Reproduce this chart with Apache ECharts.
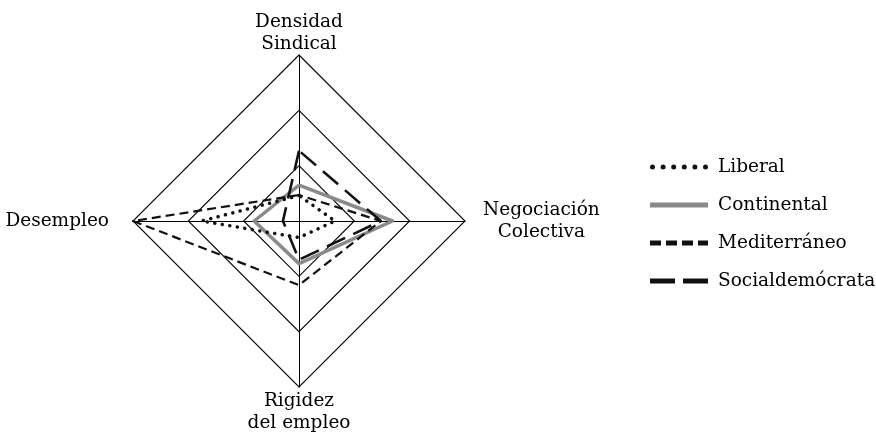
<!DOCTYPE html>
<html>
<head>
<meta charset="utf-8">
<script src="https://cdn.jsdelivr.net/npm/echarts@6/dist/echarts.min.js"></script>
<style>
  html, body { margin: 0; padding: 0; background: #fff; }
  #chart { width: 876px; height: 432px; }
</style>
</head>
<body>
<div id="chart"></div>
<script>
// indicators, counter-clockwise from the top
const indicators = ['Densidad\nSindical', 'Desempleo', 'Rigidez\ndel empleo', 'Negociación\nColectiva'];
const seriesNames = ['Liberal', 'Continental', 'Mediterráneo', 'Socialdemócrata'];

const liberal = [0.46, 1.76, 0.30, 0.65];
const continental = [0.65, 0.81, 0.77, 1.69];
const mediterraneo = [0.47, 3.0, 1.16, 1.48];
const socialdemocrata = [1.27, 0.29, 0.70, 1.48];

const serif = 'DejaVu Serif';
const fs = 18.5;

// legend samples drawn as path icons
const dotsIcon = 'path://' + [0, 10.6, 21.2, 31.8, 42.4, 53].map(x =>
    'M' + x + ',2.5a2.5,2.5 0 1,0 5,0a2.5,2.5 0 1,0 -5,0').join('');
const shortDashIcon = 'path://M0,0h11v5h-11zM16,0h11v5h-11zM32,0h11v5h-11zM48,0h10v5h-10z';
const longDashIcon = 'path://M0,0h25v5h-25zM33,0h25v5h-25z';

const chart = echarts.init(document.getElementById('chart'));

// pick a text style per side so the names sit like in the original
function nameStyle(name) {
    if (name === 'Desempleo') return 'l';
    if (name.indexOf('Negociación') === 0) return 'r';
    if (name.indexOf('Rigidez') === 0) return 'b';
    return 't';
}

const base = {align: 'center', fontFamily: serif, fontSize: fs, color: '#000', lineHeight: 22};

const option = {
    animation: false,
    backgroundColor: '#fff',
    legend: {
        orient: 'vertical',
        left: 645,
        top: 152,
        itemWidth: 58,
        itemHeight: 5,
        itemGap: 18,
        textStyle: {fontFamily: serif, fontSize: fs, color: '#000', lineHeight: 20, padding: [0, 0, 0, 5]},
        data: [
            {name: seriesNames[0], icon: dotsIcon},
            {name: seriesNames[1], icon: 'rect'},
            {name: seriesNames[2], icon: shortDashIcon},
            {name: seriesNames[3], icon: longDashIcon}
        ]
    },
    radar: {
        center: [299, 221],
        radius: 166,
        startAngle: 90,
        splitNumber: 3,
        shape: 'polygon',
        indicator: indicators.map(n => ({name: n, min: 0, max: 3})),
        axisName: {
            formatter: (name) => {
                const st = nameStyle(name);
                return name.split('\n').map(s => '{' + st + '|' + s + '}').join('\n');
            },
            rich: {
                t: Object.assign({}, base),
                b: Object.assign({}, base, {padding: [6, 0, 0, 0]}),
                l: Object.assign({}, base, {padding: [0, 24, 0, 0]}),
                r: Object.assign({}, base, {padding: [0, 0, 0, 18]})
            }
        },
        axisNameGap: 0,
        axisLine: {lineStyle: {color: '#000', width: 1}},
        splitLine: {lineStyle: {color: '#000', width: 1.1}},
        splitArea: {show: false},
        axisLabel: {show: false},
        axisTick: {show: false}
    },
    series: [{
        type: 'radar',
        symbol: 'none',
        data: [
            {name: seriesNames[1], value: continental,
                lineStyle: {color: '#8a8a8a', width: 3.5, type: 'solid'}, itemStyle: {color: '#8a8a8a'}},
            {name: seriesNames[0], value: liberal,
                lineStyle: {color: '#111', width: 3.5, type: [0.1, 7.5], cap: 'round'}, itemStyle: {color: '#111'}},
            {name: seriesNames[2], value: mediterraneo,
                lineStyle: {color: '#111', width: 2.2, type: [9, 5]}, itemStyle: {color: '#111'}},
            {name: seriesNames[3], value: socialdemocrata,
                lineStyle: {color: '#111', width: 2.6, type: [20, 9]}, itemStyle: {color: '#111'}}
        ]
    }]
};

chart.setOption(option);
</script>
</body>
</html>
